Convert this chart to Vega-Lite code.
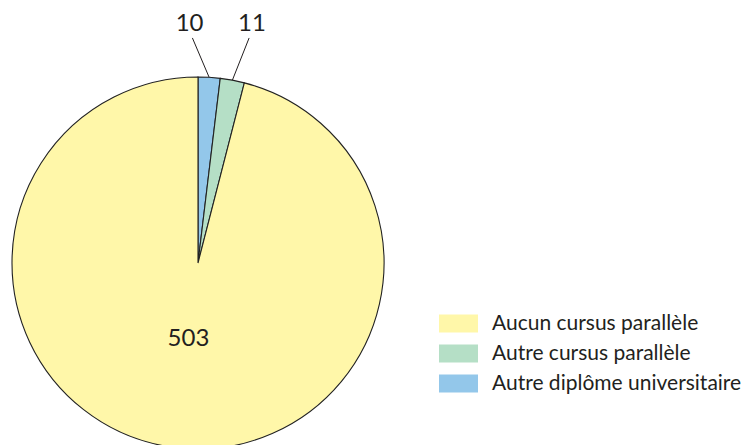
{
  "$schema": "https://vega.github.io/schema/vega-lite/v6.json",
  "width": 754,
  "height": 445,
  "padding": 0,
  "autosize": {"type": "none"},
  "background": "white",
  "config": {"view": {"stroke": null}, "font": "Lato"},
  "data": {
    "values": [
      {"cat": "Autre diplôme universitaire", "n": 10, "o": 1},
      {"cat": "Autre cursus parallèle", "n": 11, "o": 2},
      {"cat": "Aucun cursus parallèle", "n": 503, "o": 3}
    ]
  },
  "transform": [
    {"stack": "n", "groupby": [], "sort": [{"field": "o", "order": "ascending"}], "as": ["s0", "s1"]},
    {"joinaggregate": [{"op": "sum", "field": "n", "as": "tot"}]},
    {"calculate": "PI * (datum.s0 + datum.s1) / datum.tot", "as": "a"}
  ],
  "layer": [
    {
      "mark": {"type": "arc", "radius": 186, "stroke": "#222222", "strokeWidth": 1.1},
      "encoding": {
        "theta": {"field": "n", "type": "quantitative", "stack": true},
        "order": {"field": "o", "type": "quantitative"},
        "color": {
          "field": "cat",
          "type": "nominal",
          "scale": {
            "domain": ["Aucun cursus parallèle", "Autre cursus parallèle", "Autre diplôme universitaire"],
            "range": ["#FFF7A9", "#B5DFC6", "#93C7EA"]
          },
          "legend": {
            "title": null,
            "orient": "none",
            "legendX": 439,
            "legendY": 304,
            "symbolType": "M-1,-0.46H1V0.46H-1Z",
            "symbolSize": 1521,
            "symbolStrokeWidth": 0,
            "symbolOpacity": 1,
            "labelFont": "Lato",
            "labelFontSize": 21,
            "labelColor": "#231f20",
            "labelOffset": 14,
            "labelLimit": 400,
            "rowPadding": -3
          }
        },
        "x": {"datum": 0, "type": "quantitative", "scale": {"domain": [-1.0645, 2.9892], "nice": false, "zero": false}, "axis": null},
        "y": {"datum": 0, "type": "quantitative", "scale": {"domain": [-0.9785, 1.414], "nice": false, "zero": false}, "axis": null}
      }
    },
    {
      "transform": [
        {"filter": "datum.n < 100"},
        {"calculate": "sin(datum.a)", "as": "x1"},
        {"calculate": "cos(datum.a)", "as": "y1"},
        {"calculate": "sin(datum.a) + (datum.o - 1.5) * 0.18", "as": "x2"},
        {"calculate": "1.21", "as": "y2"}
      ],
      "mark": {"type": "rule", "color": "#231f20", "strokeWidth": 1},
      "encoding": {
        "x": {"field": "x1", "type": "quantitative"},
        "y": {"field": "y1", "type": "quantitative"},
        "x2": {"field": "x2"},
        "y2": {"field": "y2"}
      }
    },
    {
      "transform": [
        {"filter": "datum.n < 100"},
        {"calculate": "sin(datum.a) + (datum.o - 1.5) * 0.18 + (datum.o - 1.5) * 0.03", "as": "tx"},
        {"calculate": "1.285", "as": "ty"}
      ],
      "mark": {"type": "text", "font": "Lato", "fontSize": 24, "color": "#231f20", "align": "center", "baseline": "middle"},
      "encoding": {
        "x": {"field": "tx", "type": "quantitative"},
        "y": {"field": "ty", "type": "quantitative"},
        "text": {"field": "n", "type": "quantitative"}
      }
    },
    {
      "transform": [
        {"filter": "datum.n >= 100"},
        {"calculate": "0.41 * sin(datum.a)", "as": "tx"},
        {"calculate": "0.41 * cos(datum.a)", "as": "ty"}
      ],
      "mark": {"type": "text", "font": "Lato", "fontSize": 24, "color": "#231f20", "align": "center", "baseline": "middle"},
      "encoding": {
        "x": {"field": "tx", "type": "quantitative"},
        "y": {"field": "ty", "type": "quantitative"},
        "text": {"field": "n", "type": "quantitative"}
      }
    }
  ]
}
